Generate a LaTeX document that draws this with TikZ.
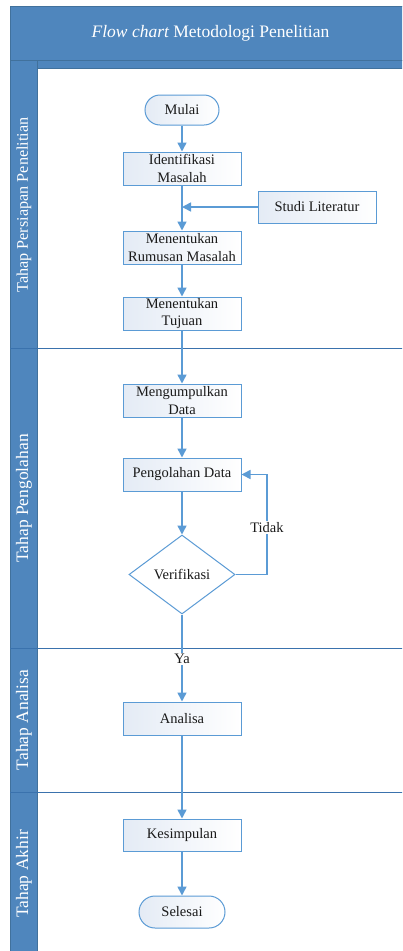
\documentclass[tikz,border=0pt]{standalone}
\usepackage{fontspec}
\setmainfont{Liberation Serif}
\usetikzlibrary{shapes.geometric,arrows.meta}
\definecolor{hdr}{HTML}{4F86BD}
\definecolor{hdrline}{HTML}{41719C}
\definecolor{arr}{HTML}{5B9BD5}
\definecolor{boxfill}{HTML}{E4EBF5}
\definecolor{sep}{HTML}{3A72AD}
\definecolor{txt}{HTML}{1A1A1A}
\begin{document}
\begin{tikzpicture}[x=1pt,y=-1pt,
  nodefont/.style={font=\fontsize{14.5}{17.5}\selectfont, text=txt},
  procbox/.style={nodefont, draw=arr, line width=1pt, left color=boxfill, right color=white,
    minimum width=118pt, minimum height=33pt, inner sep=0pt, align=center},
  termbox/.style={nodefont, draw=arr, line width=1pt, left color=boxfill, right color=white,
    minimum height=30pt, rounded corners=15pt, inner sep=0pt, align=center},
  decbox/.style={nodefont, draw=arr, line width=1pt, fill=white, diamond, aspect=1.34,
    minimum width=106pt, minimum height=79pt, inner sep=0pt},
  flow/.style={draw=arr, line width=1.5pt, -{Triangle[width=9pt,length=9pt]}},
  lanelabel/.style={text=white, rotate=90, font=\fontsize{17.5}{20}\selectfont},
  edgelabel/.style={nodefont, fill=white, inner sep=1pt},
  sepline/.style={draw=sep, line width=1pt}
]
\clip (0,0) rectangle (402,951);
\fill[white] (0,0) rectangle (402,951);
% header and lanes frame
\draw[hdrline, fill=hdr, line width=0.8pt] (10,6) rectangle (412,60);
\node[text=white, font=\fontsize{17.5}{20}\selectfont] (title) at (210.5,33) {\itshape Flow chart\upshape{} Metodologi Penelitian};
\draw[hdrline, fill=hdr, line width=0.8pt] (10,60) rectangle (37,960);
\draw[hdrline, fill=hdr, line width=0.8pt] (37,60) rectangle (412,68);
% lane separators
\draw[sepline] (10,348) -- (412,348);
\draw[sepline] (10,648) -- (412,648);
\draw[sepline] (10,792) -- (412,792);
% lane labels
\node[lanelabel, font=\fontsize{16.2}{19}\selectfont] (lane1) at (24,205) {Tahap Persiapan Penelitian};
\node[lanelabel] (lane2) at (24,498.5) {Tahap Pengolahan};
\node[lanelabel] (lane3) at (24,720) {Tahap Analisa};
\node[lanelabel] (lane4) at (24,874) {Tahap Akhir};
% nodes
\node[termbox, minimum width=74pt] (mulai) at (182,110) {Mulai};
\node[procbox] (ident) at (182,168.5) {Identifikasi\\Masalah};
\node[procbox, minimum height=32pt] (studi) at (317,207) {Studi Literatur};
\node[procbox] (rumus) at (182,247.5) {Menentukan\\Rumusan Masalah};
\node[procbox] (tujuan) at (182,313.5) {Menentukan\\Tujuan};
\node[procbox] (kumpul) at (182,400.5) {Mengumpulkan\\Data};
\node[procbox] (olah) at (182,474.5) {Pengolahan Data};
\node[decbox] (verif) at (182,574.5) {Verifikasi};
\node[procbox] (analisa) at (182,718.5) {Analisa};
\node[procbox, minimum height=32pt] (simpul) at (182,835) {Kesimpulan};
\node[termbox, minimum width=86pt, minimum height=32pt, rounded corners=16pt] (selesai) at (182,912) {Selesai};
\coordinate (join) at (ident.south |- studi.west);
\coordinate (loopa) at (267,574.5);
\coordinate (loopb) at (267,474.5);
% connectors
\draw[flow] (mulai) -- (ident);
\draw[flow] (ident) -- (rumus);
\draw[flow] (studi.west) -- (join);
\draw[flow] (rumus) -- (tujuan);
\draw[flow] (tujuan) -- (kumpul);
\draw[flow] (kumpul) -- (olah);
\draw[flow] (olah) -- (verif);
\draw[flow] (verif.east) -- (loopa) -- node[edgelabel, pos=0.47] {Tidak} (loopb) -- (olah.east);
\draw[flow] (verif.south) -- node[edgelabel, pos=0.51] {Ya} (analisa.north);
\draw[flow] (analisa) -- (simpul);
\draw[flow] (simpul) -- (selesai);
\end{tikzpicture}
\end{document}
